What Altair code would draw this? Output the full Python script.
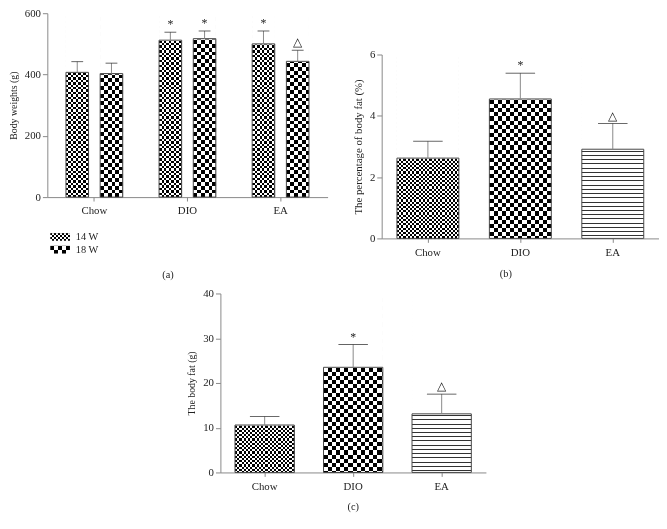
import altair as alt
import pandas as pd

SERIF = "Liberation Serif"

groups = ["Chow", "DIO", "EA"]
series = ["14 W", "18 W"]

# Panel (a): body weights (g)
a_14w_mean = [407, 512, 500]
a_14w_sd = [35, 26, 42]
a_14w_sig = ["", "*", "*"]
a_18w_mean = [403, 517, 443]
a_18w_sd = [34, 25, 36]
a_18w_sig = ["", "*", "△"]

# Panel (b): percentage of body fat (%)
b_mean = [2.62, 4.55, 2.91]
b_sd = [0.55, 0.84, 0.84]
b_sig = ["", "*", "△"]

# Panel (c): body fat (g)
c_mean = [10.6, 23.5, 13.1]
c_sd = [1.9, 5.1, 4.4]
c_sig = ["", "*", "△"]


def stops_for(n, dark_frac, dark, light):
    stops = []
    period = 1.0 / n
    k = 0
    while k * period < 1 - 1e-9:
        s = k * period
        m = min(s + period * (1 - dark_frac), 1.0)
        e = min(s + period, 1.0)
        stops.append(alt.GradientStop(offset=round(s, 5), color=light))
        stops.append(alt.GradientStop(offset=round(m, 5), color=light))
        if m < 1.0:
            stops.append(alt.GradientStop(offset=round(m, 5), color=dark))
            stops.append(alt.GradientStop(offset=round(e, 5), color=dark))
        k += 1
    return stops


def grad(n, along_y, dark_frac=0.5, dark="#000000", light="#ffffff"):
    st = stops_for(n, dark_frac, dark, light)
    if along_y:
        return alt.LinearGradient(gradient="linear", stops=st, x1=0, x2=0, y1=0, y2=1)
    return alt.LinearGradient(gradient="linear", stops=st, x1=0, x2=1, y1=0, y2=0)


def make_df(means, sds, sigs, grp, ser, pats):
    return pd.DataFrame({
        "group": grp,
        "series": ser,
        "mean": means,
        "top": [m + s for m, s in zip(means, sds)],
        "sig": sigs,
        "pattern": pats,
    })


def make_panel(df, ymax, ticks, ytitle, tsize, W, H, pi, po, bw, cap, pats, offset=False):
    xenc = alt.X("group:N", sort=groups,
                 scale=alt.Scale(domain=groups, paddingInner=pi, paddingOuter=po),
                 axis=alt.Axis(title=None, labelAngle=0, tickSize=4, labelPadding=4))
    yscale = alt.Scale(domain=[0, ymax], nice=False, zero=True)
    yaxis = alt.Axis(values=ticks, title=ytitle, titleFontSize=tsize, tickSize=5,
                     labelPadding=2, titlePadding=6, grid=False)
    enc = dict(x=xenc)
    if offset:
        enc["xOffset"] = alt.XOffset("series:N", sort=series,
                                     scale=alt.Scale(domain=series, paddingInner=0.34, paddingOuter=0))
    base = alt.Chart(df).encode(**enc)
    layers = [base.mark_bar(fill="white").encode(
        y=alt.Y("mean:Q", scale=yscale, axis=yaxis, title=ytitle), y2=alt.datum(0))]
    for name, spec in pats.items():
        sub = base.transform_filter(alt.datum.pattern == name)
        if spec[0] == "checker":
            cell = spec[1]
            layers.append(sub.mark_bar(fill=grad(bw / (2 * cell), False)).encode(
                y=alt.Y("mean:Q", title=ytitle), y2=alt.datum(0)))
            # black bands leave the backdrop unchanged, white bands invert it
            layers.append(sub.mark_bar(fill=grad(H / (2 * cell), True, dark="#ffffff",
                                                 light="#000000"),
                                       blend="difference").encode(
                y=alt.datum(ymax), y2=alt.datum(0)))
        else:
            spacing = spec[1]
            layers.append(sub.mark_bar(fill=grad(H / spacing, True, dark_frac=1.0 / spacing,
                                                 dark="#333333")).encode(
                y=alt.datum(ymax), y2=alt.datum(0)))
    layers.append(base.mark_bar(fill="white", stroke="white", strokeWidth=1.5).encode(
        y=alt.Y("mean:Q", title=ytitle), y2=alt.datum(ymax)))
    layers.append(base.mark_bar(fillOpacity=0, stroke="#444444", strokeWidth=1).encode(
        y=alt.Y("mean:Q", title=ytitle), y2=alt.datum(0)))
    layers.append(base.mark_rule(color="#888888", strokeWidth=1).encode(
        y=alt.Y("mean:Q", title=ytitle), y2="top:Q"))
    layers.append(base.mark_tick(color="#222222", size=cap, thickness=1).encode(
        y=alt.Y("top:Q", title=ytitle)))
    layers.append(base.mark_text(baseline="bottom", dy=-1, font=SERIF, fontSize=12,
                                 color="#222222").encode(
        y=alt.Y("top:Q", title=ytitle), text="sig:N"))
    return alt.layer(*layers).properties(width=W, height=H)


def caption(t, off):
    return alt.TitleParams(text=t, orient="bottom", anchor="middle", fontSize=10.5, font=SERIF,
                           fontWeight="normal", color="#222222", offset=off)


# ---- panel a
df_a = pd.concat([
    make_df(a_14w_mean, a_14w_sd, a_14w_sig, groups, ["14 W"] * 3, ["fine"] * 3),
    make_df(a_18w_mean, a_18w_sd, a_18w_sig, groups, ["18 W"] * 3, ["coarse"] * 3),
], ignore_index=True)
A = make_panel(df_a, 600, [0, 200, 400, 600], "Body weights (g)", 10, 285, 187,
               0.39, 0.2, 23, 12, {"fine": ("checker", 2.5), "coarse": ("checker", 3.9)},
               offset=True)

leg_df = pd.DataFrame({"series": series, "pattern": ["fine", "coarse"]})
leg_base = alt.Chart(leg_df).encode(
    y=alt.Y("series:N", sort=series, axis=None,
            scale=alt.Scale(paddingInner=0.4, paddingOuter=0.2)))
leg_layers = []
for name, cell in [("fine", 2.0), ("coarse", 4.0)]:
    sub = leg_base.transform_filter(alt.datum.pattern == name)
    leg_layers.append(sub.mark_rect(fill=grad(20 / (2 * cell), False)).encode(
        x=alt.value(3), x2=alt.value(23)))
    leg_layers.append(sub.mark_rect(fill=grad(7.8 / (2 * cell), True), blend="difference").encode(
        x=alt.value(3), x2=alt.value(23)))
leg_layers.append(leg_base.mark_text(align="left", baseline="middle", font=SERIF, fontSize=10.5,
                                     color="#222222").encode(x=alt.value(29), text="series:N"))
legend = alt.layer(*leg_layers).properties(width=70, height=26)

A_col = alt.vconcat(A, legend, spacing=15).properties(title=caption("(a)", 14))

# ---- panel b
pats_bc = ["fine", "coarse", "lines"]
df_b = make_df(b_mean, b_sd, b_sig, groups, ["all"] * 3, pats_bc)
B = make_panel(df_b, 6, [0, 2, 4, 6], "The percentage of body fat (%)", 11, 282, 187,
               0.33, 0.165, 63, 30,
               {"fine": ("checker", 2.2), "coarse": ("checker", 4.2), "lines": ("lines", 4.3)})
spacer = alt.Chart(pd.DataFrame({"k": [0]})).mark_point(opacity=0, size=1).encode(
    x=alt.value(10), y=alt.value(15)).properties(width=282, height=36)
B_col = alt.vconcat(spacer, B, spacing=0).properties(title=caption("(b)", 12))

# ---- panel c
df_c = make_df(c_mean, c_sd, c_sig, groups, ["all"] * 3, pats_bc)
C = make_panel(df_c, 40, [0, 10, 20, 30, 40], "The body fat (g)", 10, 270, 182,
               0.33, 0.165, 60, 30,
               {"fine": ("checker", 2.2), "coarse": ("checker", 4.2), "lines": ("lines", 4.3)}
               ).properties(title=caption("(c)", 11))

top = alt.hconcat(A_col, B_col, spacing=25)
chart = alt.vconcat(top, C, spacing=7, center=True).properties(
    padding={"left": 0, "top": -5, "right": 0, "bottom": 0}
).configure_view(stroke=None).configure_axis(
    domainColor="#888888", tickColor="#888888", labelColor="#222222", titleColor="#222222",
    labelFont=SERIF, titleFont=SERIF, labelFontSize=11, titleFontSize=10,
    titleFontWeight="normal", grid=False
).configure_title(font=SERIF)

chart.save("out.html", embed_options={"renderer": "svg", "actions": False})
